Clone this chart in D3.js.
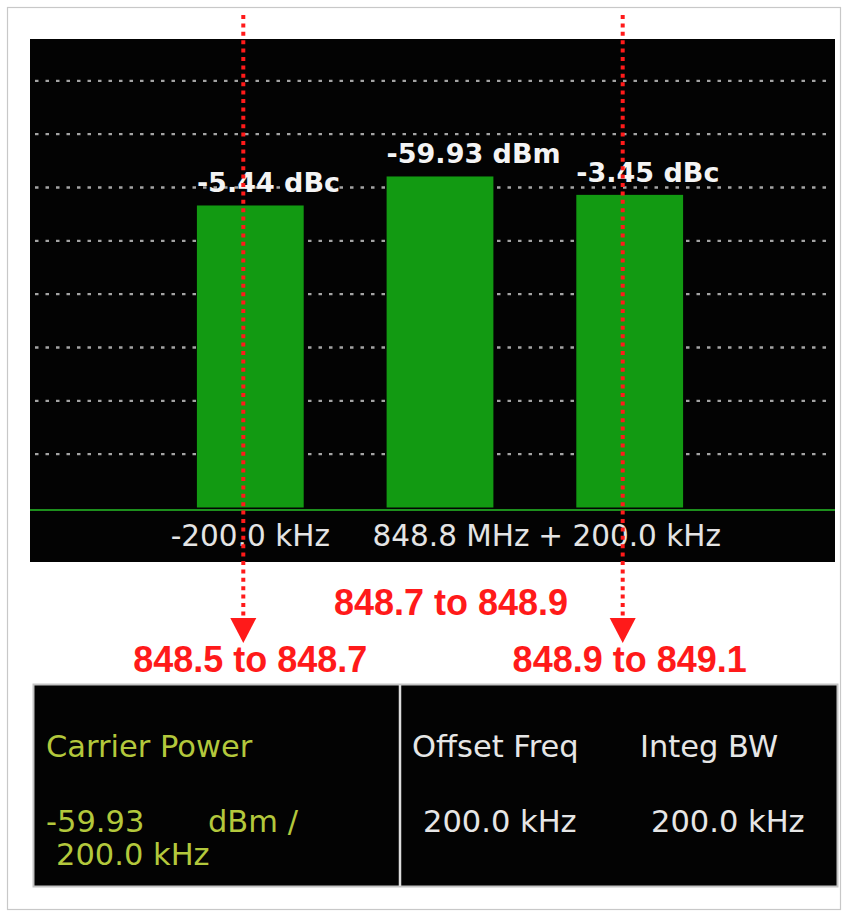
<!DOCTYPE html>
<html>
<head>
<meta charset="utf-8">
<script src="https://cdn.jsdelivr.net/npm/d3@7"></script>
<style>
  html, body { margin: 0; padding: 0; background: #fff; }
  svg { display: block; }
</style>
</head>
<body>
<svg id="chart" width="847" height="917"></svg>
<script>
// Channel power measurement: carrier plus lower / upper adjacent channels
const categories   = ["-200.0 kHz", "848.8 MHz", "+ 200.0 kHz"];
const carrierDbm   = -59.93;
const relativeDbc  = [-5.44, 0, -3.45];          // 0 marks the carrier itself
const rangeLabels  = ["848.5 to 848.7", "848.7 to 848.9", "848.9 to 849.1"];
const gridDbm      = [-112, -102, -92, -82, -72, -62, -52, -42];
const tableHeaders = ["Offset Freq", "Integ BW"];
const tableValues  = ["200.0 kHz", "200.0 kHz"];
const carrierTitle = "Carrier Power";
const carrierUnit  = "dBm /";
const carrierBw    = "200.0 kHz";

const powerDbm = relativeDbc.map(d => carrierDbm + d);
const barText = relativeDbc.map((d, i) =>
  d === 0 ? `${carrierDbm.toFixed(2)} dBm` : `${d.toFixed(2)} dBc`);

const svg = d3.select("#chart");
const RED = "#ff1a1a";
const GREEN_TXT = "#b3c83c";
const PANEL_FONT = "'DejaVu Sans', sans-serif";
// the centre-channel captions sit slightly right of the carrier bar
const centreShift = i => (i === 1 ? 11 : 0);

// outer frame
svg.append("rect")
  .attr("x", 7.5).attr("y", 7.5).attr("width", 833).attr("height", 902)
  .attr("fill", "#fff").attr("stroke", "#c8c8c8").attr("stroke-width", 1.2);

// spectrum display panel
const panel = { x0: 30, x1: 835, y0: 39, y1: 562 };
svg.append("rect")
  .attr("x", panel.x0).attr("y", panel.y0)
  .attr("width", panel.x1 - panel.x0).attr("height", panel.y1 - panel.y0)
  .attr("fill", "#030303");

const x = d3.scaleBand()
  .domain(categories)
  .range([114, 766])
  .paddingInner(0.437)
  .paddingOuter(0.437);

const y = d3.scaleLinear()
  .domain([-122, -32])
  .range([507.5, 27.5]);

// dotted graticule
svg.append("g").selectAll("line")
  .data(gridDbm)
  .join("line")
  .attr("x1", 35).attr("x2", 831)
  .attr("y1", d => y(d)).attr("y2", d => y(d))
  .attr("stroke", "#a4a4a4")
  .attr("stroke-width", 2.4)
  .attr("stroke-dasharray", "3.5,7");

// channel bars
svg.append("g").selectAll("rect")
  .data(powerDbm)
  .join("rect")
  .attr("x", (d, i) => x(categories[i]))
  .attr("width", x.bandwidth())
  .attr("y", d => y(d))
  .attr("height", d => y.range()[0] - y(d))
  .attr("fill", "#129a12");

// baseline
svg.append("line")
  .attr("x1", panel.x0).attr("x2", panel.x1)
  .attr("y1", 510).attr("y2", 510)
  .attr("stroke", "#1d8f1d").attr("stroke-width", 2);

// value labels above bars
svg.append("g").selectAll("text")
  .data(powerDbm)
  .join("text")
  .attr("x", (d, i) => x(categories[i]))
  .attr("y", d => y(d) - 13)
  .attr("fill", "#f4f4f4")
  .attr("font-family", PANEL_FONT)
  .attr("font-weight", "bold")
  .attr("font-size", 27)
  .text((d, i) => barText[i]);

// frequency axis labels
svg.append("g").selectAll("text")
  .data(categories)
  .join("text")
  .attr("x", (d, i) => x(d) + x.bandwidth() / 2 + centreShift(i))
  .attr("y", 546)
  .attr("text-anchor", "middle")
  .attr("fill", "#e4e4e4")
  .attr("font-family", PANEL_FONT)
  .attr("font-size", 29.5)
  .text(d => d);

// dotted arrows from adjacent channels down to their frequency ranges
const arrowIdx = [0, 2];
const arrows = svg.append("g").selectAll("g")
  .data(arrowIdx)
  .join("g")
  .attr("transform", i => `translate(${x(categories[i]) + x.bandwidth() / 2 - 7},0)`);
arrows.append("line")
  .attr("x1", 0).attr("x2", 0)
  .attr("y1", 15).attr("y2", 618)
  .attr("stroke", RED).attr("stroke-width", 4)
  .attr("stroke-dasharray", "4,4.4");
arrows.append("path")
  .attr("d", "M-13,618 L13,618 L0,643 Z")
  .attr("fill", RED);

// frequency range labels
svg.append("g").selectAll("text")
  .data(rangeLabels)
  .join("text")
  .attr("x", (d, i) => x(categories[i]) + x.bandwidth() / 2 + centreShift(i))
  .attr("y", (d, i) => i === 1 ? 615 : 672)
  .attr("text-anchor", "middle")
  .attr("fill", RED)
  .attr("font-family", "'Liberation Sans', Arial, sans-serif")
  .attr("font-weight", "bold")
  .attr("font-size", 36)
  .text(d => d);

// results table
svg.append("rect")
  .attr("x", 33.5).attr("y", 684.5).attr("width", 804).attr("height", 202)
  .attr("fill", "#030303").attr("stroke", "#c4c4c4").attr("stroke-width", 2);
svg.append("line")
  .attr("x1", 400).attr("x2", 400).attr("y1", 685).attr("y2", 886)
  .attr("stroke", "#dcdcdc").attr("stroke-width", 2.5);

const table = svg.append("g")
  .attr("font-family", PANEL_FONT)
  .attr("font-size", 30.5);

table.append("text").attr("x", 46).attr("y", 757)
  .attr("fill", GREEN_TXT).text(carrierTitle);
table.append("text").attr("x", 46).attr("y", 832)
  .attr("fill", GREEN_TXT).text(carrierDbm.toFixed(2));
table.append("text").attr("x", 208).attr("y", 832)
  .attr("fill", GREEN_TXT).text(carrierUnit);
table.append("text").attr("x", 56).attr("y", 865)
  .attr("fill", GREEN_TXT).text(carrierBw);

const colX = d3.scalePoint().domain(tableHeaders).range([412, 640]);
table.append("g").selectAll("text")
  .data(tableHeaders)
  .join("text")
  .attr("x", d => colX(d)).attr("y", 757)
  .attr("fill", "#e6e6e6")
  .text(d => d);
table.append("g").selectAll("text")
  .data(tableValues)
  .join("text")
  .attr("x", (d, i) => colX(tableHeaders[i]) + 11).attr("y", 832)
  .attr("fill", "#e6e6e6")
  .text(d => d);
</script>
</body>
</html>
